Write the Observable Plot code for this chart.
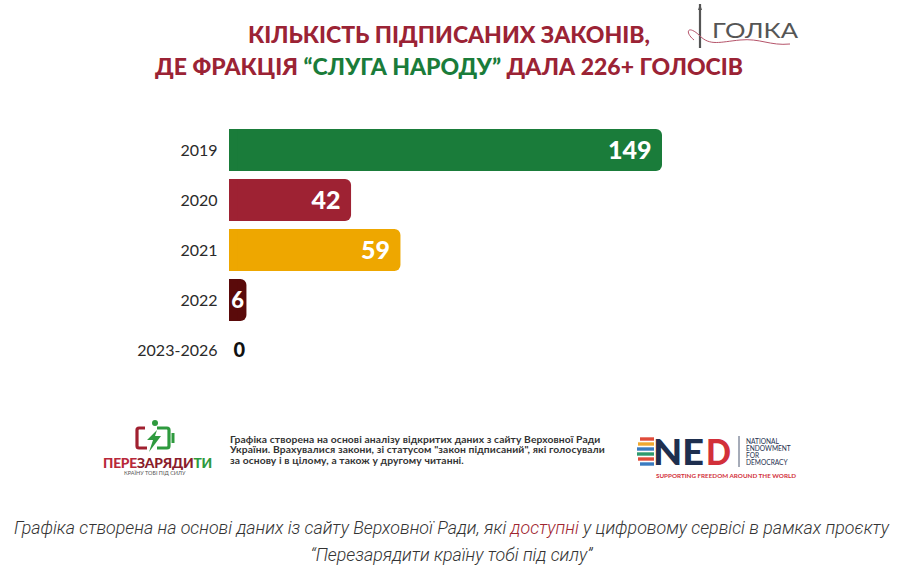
<!DOCTYPE html>
<html><head><meta charset="utf-8">
<script src="https://cdn.jsdelivr.net/npm/d3@7"></script>
<script src="https://cdn.jsdelivr.net/npm/@observablehq/plot@0.6"></script>
<style>
body{margin:0;background:#fff;}
#wrap{position:relative;width:903px;height:585px;overflow:hidden;font-family:Lato,sans-serif;background:#fff;}
.abs{position:absolute;}
#title{left:0;top:18px;width:898px;text-align:center;font-family:Lato,sans-serif;font-weight:900;font-size:23px;line-height:32px;color:#9b2335;letter-spacing:0px;}
#title .g{color:#1a7c3a;}
#chart{left:0;top:100px;}
#note{left:230px;top:434px;font-family:Lato,sans-serif;font-weight:700;font-size:10.3px;line-height:10.3px;letter-spacing:0.1px;color:#333;white-space:nowrap;}
#brand{left:103px;top:455px;font-family:Lato,sans-serif;font-weight:900;font-size:13.8px;line-height:15px;letter-spacing:-0.2px;white-space:nowrap;color:#8a1c2b;}
#brand .a{color:#b8283a;} #brand .b{color:#8a1c2b;} #brand .c{color:#2e9a3e;}
#tag{left:124px;top:470px;font-family:Lato,sans-serif;font-size:5.5px;line-height:6px;color:#555;white-space:nowrap;}
#caption{left:0;top:514px;width:903px;text-align:center;font-family:Roboto,sans-serif;font-style:italic;font-weight:300;font-size:17.8px;line-height:27px;color:#333;white-space:nowrap;}
#caption .r{color:#a0252f;}
</style></head><body>
<div id="wrap">
  <div id="title" class="abs">КІЛЬКІСТЬ ПІДПИСАНИХ ЗАКОНІВ,<br>ДЕ ФРАКЦІЯ <span class="g">“СЛУГА НАРОДУ”</span> ДАЛА 226+ ГОЛОСІВ</div>

  <svg class="abs" style="left:680px;top:2px" width="130" height="52" viewBox="0 0 130 52">
    <path d="M20 2 L20 46" stroke="#555" stroke-width="2.2"/>
    <path d="M20 2 L18 8 L22 8 Z" fill="#555"/>
    <path d="M14 38 C4 30, 8 22, 20 34 C30 44, 40 40, 60 38 C80 36, 90 44, 110 42" stroke="#b5546a" stroke-width="1" fill="none"/>
    <text x="32" y="36" font-family="Lato,sans-serif" font-weight="400" font-size="22" fill="#555" textLength="86" lengthAdjust="spacingAndGlyphs">ГОЛКА</text>
  </svg>

  <div id="chart" class="abs"></div>

  <svg class="abs" style="left:95px;top:418px" width="130" height="36" viewBox="0 0 130 36">
    <path d="M50 10 L44 10 Q42 10 42 12 L42 28 Q42 30 44 30 L52 30" stroke="#a02030" stroke-width="3.2" fill="none"/>
    <path d="M62 10 L72 10 Q74 10 74 12 L74 28 Q74 30 72 30 L62 30" stroke="#2e9a3e" stroke-width="3.2" fill="none"/>
    <path d="M78 15 L78 25" stroke="#2e9a3e" stroke-width="3"/>
    <circle cx="60" cy="5" r="3" fill="#2e9a3e"/>
    <path d="M62 12 L52 22 L58 22 L54 34 L66 18 L60 18 Z" fill="#2e9a3e"/>
  </svg>
  <div id="brand" class="abs"><span class="a">ПЕРЕ</span><span class="b">ЗАРЯДИ</span><span class="c">ТИ</span></div>
  <div id="tag" class="abs">КРАЇНУ ТОБІ ПІД СИЛУ</div>

  <div id="note" class="abs">Графіка створена на основі аналізу відкритих даних з сайту Верховної Ради<br>України. Врахувалися закони, зі статусом "закон підписаний", які голосували<br>за основу і в цілому, а також у другому читанні.</div>

  <svg class="abs" style="left:634px;top:430px" width="175" height="54" viewBox="0 0 175 54">
    <g>
      <path d="M6 9 H20" stroke="#e04b3a" stroke-width="3.4"/>
      <path d="M4 14 H20" stroke="#f0a830" stroke-width="3.4"/>
      <path d="M3 19 H20" stroke="#3a7bc0" stroke-width="3.4"/>
      <path d="M3 24 H20" stroke="#2e9a6e" stroke-width="3.4"/>
      <path d="M4 29 H20" stroke="#e04b3a" stroke-width="3.4"/>
      <path d="M6 34 H20" stroke="#3a7bc0" stroke-width="3.4"/>
    </g>
    <text x="19" y="35" font-family="Lato,sans-serif" font-weight="900" font-size="36" fill="#1e2f4f" textLength="51" lengthAdjust="spacingAndGlyphs">NE</text>
    <text x="72" y="35" font-family="Lato,sans-serif" font-weight="900" font-size="36" fill="#d2303a" textLength="25" lengthAdjust="spacingAndGlyphs">D</text>
    <path d="M105 6 V37" stroke="#1e2f4f" stroke-width="0.8"/>
    <g font-family="Lato,sans-serif" font-size="6.6" fill="#1e2f4f">
      <text x="112" y="13.5">NATIONAL</text>
      <text x="112" y="20.5">ENDOWMENT</text>
      <text x="112" y="27.5">FOR</text>
      <text x="112" y="34.5">DEMOCRACY</text>
    </g>
    <text x="22" y="48" font-family="Lato,sans-serif" font-weight="700" font-size="5.2" fill="#d2303a" textLength="140" lengthAdjust="spacingAndGlyphs">SUPPORTING FREEDOM AROUND THE WORLD</text>
  </svg>

  <div id="caption" class="abs">Графіка створена на основі даних із сайту Верховної Ради, які <span class="r">доступні</span> у цифровому сервісі в рамках проєкту<br>“Перезарядити країну тобі під силу”</div>
</div>
<script>
const years = ["2019", "2020", "2021", "2022", "2023-2026"];
const laws = [149, 42, 59, 6, 0];
const barColors = ["#1a7c3a", "#9e2233", "#eea700", "#5a0a0a", "#5a0a0a"];

const data = years.map((y, i) => ({year: y, value: laws[i], color: barColors[i]}));

const chart = Plot.plot({
  width: 903,
  height: 290,
  marginLeft: 229,
  marginRight: 241,
  marginTop: 19,
  marginBottom: 10,
  style: {fontFamily: "Lato, sans-serif", background: "transparent"},
  x: {domain: [0, 149], axis: null},
  y: {domain: years, padding: 0.16, label: null, axis: null},
  marks: [
    Plot.barX(data.filter(d => d.value > 0), {x: "value", y: "year", fill: "color", rx: 6}),
    Plot.barX(data.filter(d => d.value > 0), {x1: 0, x2: d => Math.min(d.value, 3), y: "year", fill: "color"}),
    Plot.axisY({tickSize: 0, tickPadding: 12, fontSize: 16, fill: "#2a2a2a", label: null}),
    Plot.text(data.filter(d => d.value >= 10), {x: "value", y: "year", text: d => String(d.value), textAnchor: "end", dx: -11, fill: "white", fontWeight: 900, fontSize: 25}),
    Plot.text(data.filter(d => d.value > 0 && d.value < 10), {x: "value", y: "year", text: d => String(d.value), textAnchor: "end", dx: -3, fill: "white", fontWeight: 900, fontSize: 22}),
    Plot.text(data.filter(d => d.value === 0), {x: "value", y: "year", text: d => String(d.value), textAnchor: "start", dx: 4, fill: "#111", fontWeight: 900, fontSize: 20})
  ]
});
document.getElementById("chart").appendChild(chart);
</script>
</body></html>
